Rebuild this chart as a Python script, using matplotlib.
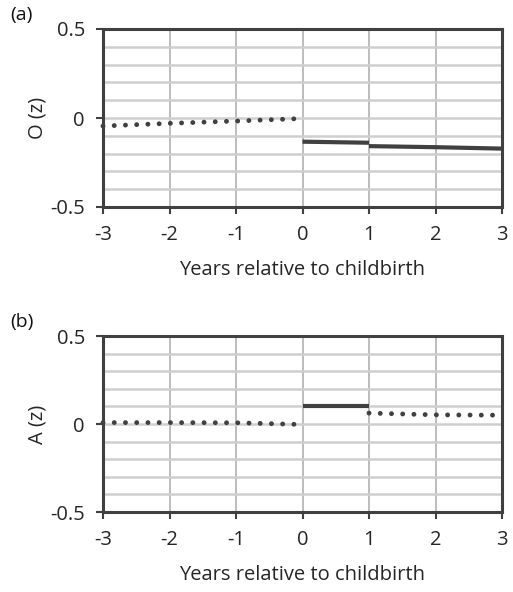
import matplotlib
matplotlib.use("Agg")
import matplotlib.pyplot as plt
import numpy as np
from matplotlib.ticker import MultipleLocator

plt.rcParams['font.family'] = ['Open Sans', 'DejaVu Sans']
plt.rcParams['axes.unicode_minus'] = False

DARK, GRID = "#404040", "#bdbdbd"

# panel (a): O(z)
a_pre_x = [-3, -2, -1, -0.08]
a_pre_y = [-0.045, -0.03, -0.017, -0.004]
a_y1_x = [0, 1]
a_y1_y = [-0.133, -0.139]
a_post_x = [1, 2, 3]
a_post_y = [-0.158, -0.164, -0.172]

# panel (b): A(z)
b_pre_x = [-3, -2, -1, -0.08]
b_pre_y = [0.008, 0.008, 0.007, -0.002]
b_y1_x = [0, 1]
b_y1_y = [0.105, 0.105]
b_post_x = [1, 2, 3]
b_post_y = [0.062, 0.052, 0.05]

xticks = [-3, -2, -1, 0, 1, 2, 3]
yticks = [-0.5, 0, 0.5]
yticklabels = ['-0.5', '0', '0.5']

DOT = (0, (0.01, 2.3))

fig = plt.figure(figsize=(5.13, 5.92), dpi=100)
W, H = 513, 592


def panel(rect, letter, ylabel, segs):
    l, t, r, b = rect
    ax = fig.add_axes([l / W, 1 - b / H, (r - l) / W, (b - t) / H])
    for xs, ys, style in segs:
        if style == 'dot':
            ax.plot(xs, ys, color=DARK, lw=3.5, linestyle=DOT, dash_capstyle='round',
                    zorder=3, clip_on=False)
        else:
            ax.plot(xs, ys, color=DARK, lw=3.0, solid_capstyle='butt', zorder=3)
    ax.set_xlim(-3, 3); ax.set_ylim(-0.5, 0.5)
    ax.set_xticks(xticks); ax.set_xticklabels([str(v) for v in xticks])
    ax.set_yticks(yticks); ax.set_yticklabels(yticklabels)
    ax.yaxis.set_minor_locator(MultipleLocator(0.1))
    ax.grid(True, which='major', axis='x', color=GRID, lw=1.4)
    ax.grid(True, which='both', axis='y', color="#cfcfcf", lw=1.8)
    ax.tick_params(axis='y', which='minor', length=0)
    ax.tick_params(which='major', direction='out', length=5, width=1.5, color=DARK,
                   labelsize=14.5, labelcolor='#262626', pad=8)
    for s in ax.spines.values():
        s.set_color(DARK); s.set_linewidth(2.2)
    ax.set_axisbelow(True)
    ax.set_xlabel('Years relative to childbirth', fontsize=14.5, color='#262626', labelpad=11)
    ax.set_ylabel(ylabel, fontsize=14.5, color='#262626', labelpad=2)
    fig.text(10 / W, 1 - (t - 14) / H, letter, fontsize=14, color='#111111', va='center')
    return ax


panel((103, 29, 502, 207), '(a)', 'O (z)',
      [(a_pre_x, a_pre_y, 'dot'), (a_y1_x, a_y1_y, 'solid'), (a_post_x, a_post_y, 'solid')])
panel((103, 336, 502, 512), '(b)', 'A (z)',
      [(b_pre_x, b_pre_y, 'dot'), (b_y1_x, b_y1_y, 'solid'), (b_post_x, b_post_y, 'dot')])

fig.savefig('out.png', dpi=100, facecolor='white')
